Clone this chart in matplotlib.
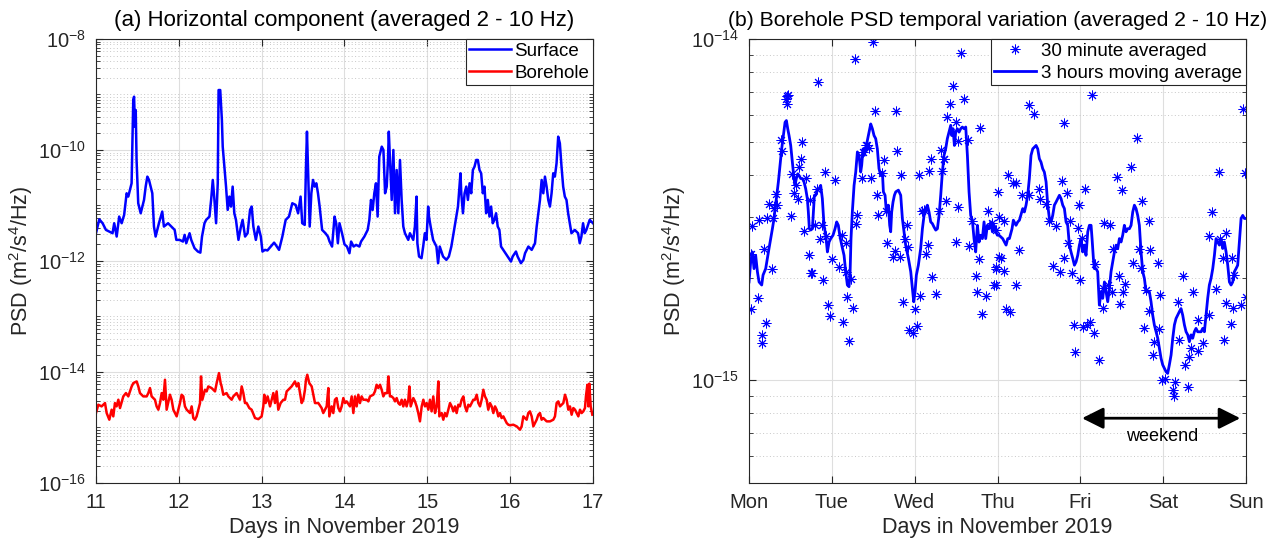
#
# PSD of the horizontal component, surface vs borehole, and the weekly borehole variation
#
import numpy as np
import matplotlib
matplotlib.use('Agg')
import matplotlib.pyplot as plt
from matplotlib.ticker import LogLocator, NullFormatter

# ---- Data -----------------------------------------------------------------
# (a) time in days of November 2019, PSD given as log10 exponent
surface_day = [11.00, 11.04, 11.08, 11.12, 11.16, 11.20, 11.22, 11.25, 11.28, 11.31,
               11.34, 11.37, 11.39, 11.41, 11.43, 11.45, 11.46, 11.47, 11.48, 11.49,
               11.51, 11.54, 11.58, 11.60, 11.62, 11.64, 11.68, 11.70, 11.72, 11.76,
               11.80, 11.82, 11.87, 11.91, 11.95, 11.97, 12.01, 12.05, 12.07, 12.09,
               12.13, 12.15, 12.19, 12.23, 12.26, 12.28, 12.31, 12.33, 12.37, 12.39,
               12.41, 12.43, 12.45, 12.47, 12.48, 12.50, 12.52, 12.53, 12.55, 12.57,
               12.59, 12.61, 12.63, 12.65, 12.67, 12.69, 12.72, 12.75, 12.77, 12.80,
               12.83, 12.86, 12.88, 12.90, 12.93, 12.96, 12.99, 13.01, 13.04, 13.07,
               13.11, 13.15, 13.17, 13.21, 13.25, 13.29, 13.33, 13.37, 13.41, 13.44,
               13.47, 13.49, 13.52, 13.535, 13.547, 13.56, 13.58, 13.60, 13.62, 13.64,
               13.66, 13.68, 13.70, 13.73, 13.77, 13.80, 13.82, 13.85, 13.88, 13.90,
               13.92, 13.94, 13.97, 14.00, 14.03, 14.06, 14.08, 14.11, 14.14, 14.18,
               14.20, 14.24, 14.28, 14.30, 14.32, 14.34, 14.36, 14.38, 14.40, 14.42,
               14.45, 14.47, 14.49, 14.51, 14.525, 14.535, 14.55, 14.57, 14.59, 14.61,
               14.63, 14.65, 14.67, 14.69, 14.71, 14.73, 14.77, 14.79, 14.83, 14.85,
               14.87, 14.88, 14.90, 14.93, 14.95, 14.97, 14.99, 15.01, 15.02, 15.04,
               15.07, 15.11, 15.13, 15.15, 15.19, 15.23, 15.26, 15.29, 15.33, 15.37,
               15.40, 15.41, 15.43, 15.45, 15.47, 15.49, 15.51, 15.53, 15.55, 15.57,
               15.59, 15.61, 15.63, 15.65, 15.67, 15.69, 15.71, 15.73, 15.75, 15.77,
               15.79, 15.81, 15.83, 15.85, 15.87, 15.89, 15.93, 15.97, 16.01, 16.03,
               16.07, 16.09, 16.13, 16.16, 16.18, 16.22, 16.26, 16.30, 16.32, 16.34,
               16.36, 16.38, 16.40, 16.42, 16.44, 16.46, 16.48, 16.50, 16.52, 16.54,
               16.56, 16.58, 16.60, 16.62, 16.64, 16.66, 16.68, 16.70, 16.72, 16.74,
               16.78, 16.82, 16.84, 16.86, 16.88, 16.90, 16.92, 16.96, 17.00]
surface_exp = [-11.50, -11.25, -11.32, -11.44, -11.47, -11.50, -11.32, -11.56, -11.20, -11.32,
               -11.17, -10.78, -10.84, -10.72, -10.60, -9.10, -9.04, -9.58, -9.28, -10.18,
               -10.96, -11.14, -10.90, -10.66, -10.48, -10.54, -10.78, -11.38, -11.56, -11.32,
               -11.11, -11.38, -11.32, -11.38, -11.44, -11.62, -11.62, -11.65, -11.53, -11.68,
               -11.50, -11.62, -11.77, -11.83, -11.85, -11.56, -11.32, -11.26, -11.20, -10.90,
               -10.54, -10.90, -11.32, -10.60, -8.92, -8.92, -9.46, -9.94, -10.30, -10.66,
               -11.08, -10.84, -11.02, -10.66, -11.14, -11.26, -11.62, -11.38, -11.26, -11.56,
               -11.50, -11.08, -11.02, -11.38, -11.62, -11.38, -11.56, -11.83, -11.80, -11.81,
               -11.74, -11.67, -11.71, -11.80, -11.56, -11.26, -11.20, -10.96, -10.99, -11.14,
               -10.84, -11.32, -11.35, -10.30, -9.67, -10.36, -11.38, -10.78, -10.54, -10.66,
               -10.60, -10.78, -11.02, -11.44, -11.50, -11.56, -11.65, -11.74, -11.20, -11.32,
               -11.68, -11.32, -11.50, -11.70, -11.74, -11.86, -11.65, -11.74, -11.71, -11.74,
               -11.65, -11.56, -11.44, -11.26, -10.90, -11.08, -10.78, -10.60, -11.20, -10.12,
               -9.94, -10.00, -10.78, -10.66, -10.18, -9.67, -10.18, -10.90, -10.00, -11.14,
               -10.36, -11.14, -10.18, -10.90, -11.38, -11.50, -11.62, -11.50, -11.62, -11.38,
               -10.84, -11.68, -11.92, -11.95, -11.74, -11.50, -11.62, -11.02, -11.20, -11.38,
               -11.62, -11.74, -12.04, -11.74, -11.92, -11.98, -11.92, -11.74, -11.38, -11.02,
               -10.42, -10.78, -11.14, -10.78, -10.66, -10.90, -10.60, -10.78, -10.36, -10.30,
               -10.18, -10.18, -10.36, -10.42, -10.78, -10.66, -11.14, -10.90, -11.20, -11.02,
               -11.32, -11.26, -11.14, -11.38, -11.44, -11.74, -11.83, -11.92, -12.01, -11.92,
               -11.83, -11.92, -12.04, -11.98, -11.86, -11.74, -11.80, -11.68, -11.38, -11.14,
               -10.90, -10.54, -10.78, -10.48, -10.66, -10.90, -11.02, -10.78, -10.42, -10.48,
               -10.24, -9.76, -9.88, -10.30, -10.66, -10.84, -10.90, -11.14, -11.32, -11.50,
               -11.44, -11.50, -11.68, -11.56, -11.32, -11.50, -11.44, -11.26, -11.32]

borehole_day = [11.000, 11.028, 11.068, 11.109, 11.129, 11.161, 11.189, 11.209, 11.229, 11.249,
                11.270, 11.290, 11.330, 11.362, 11.390, 11.431, 11.451, 11.491, 11.511, 11.531,
                11.571, 11.612, 11.632, 11.652, 11.672, 11.712, 11.732, 11.753, 11.773, 11.793,
                11.813, 11.833, 11.853, 11.893, 11.913, 11.934, 11.974, 12.014, 12.034, 12.054,
                12.074, 12.095, 12.135, 12.155, 12.175, 12.195, 12.215, 12.235, 12.256, 12.268,
                12.284, 12.316, 12.336, 12.356, 12.396, 12.437, 12.457, 12.485, 12.505, 12.517,
                12.537, 12.577, 12.598, 12.638, 12.658, 12.698, 12.738, 12.759, 12.779, 12.799,
                12.819, 12.851, 12.879, 12.920, 12.960, 13.000, 13.020, 13.032, 13.048, 13.072,
                13.101, 13.121, 13.141, 13.161, 13.181, 13.201, 13.229, 13.262, 13.282, 13.302,
                13.342, 13.362, 13.402, 13.423, 13.443, 13.463, 13.483, 13.503, 13.523, 13.535,
                13.551, 13.575, 13.604, 13.624, 13.644, 13.684, 13.724, 13.744, 13.785, 13.805,
                13.817, 13.845, 13.865, 13.885, 13.905, 13.926, 13.946, 13.966, 13.986, 14.006,
                14.026, 14.066, 14.087, 14.107, 14.127, 14.147, 14.167, 14.187, 14.207, 14.227,
                14.268, 14.288, 14.308, 14.348, 14.368, 14.388, 14.408, 14.429, 14.449, 14.469,
                14.489, 14.517, 14.529, 14.549, 14.569, 14.590, 14.610, 14.630, 14.650, 14.670,
                14.690, 14.710, 14.730, 14.750, 14.771, 14.783, 14.799, 14.831, 14.851, 14.871,
                14.891, 14.911, 14.932, 14.952, 14.972, 14.992, 15.012, 15.032, 15.052, 15.072,
                15.093, 15.113, 15.133, 15.145, 15.173, 15.193, 15.213, 15.233, 15.254, 15.274,
                15.294, 15.314, 15.334, 15.354, 15.374, 15.394, 15.414, 15.435, 15.455, 15.475,
                15.495, 15.515, 15.535, 15.555, 15.575, 15.596, 15.616, 15.636, 15.656, 15.676,
                15.696, 15.716, 15.736, 15.757, 15.777, 15.797, 15.817, 15.837, 15.857, 15.877,
                15.897, 15.918, 15.938, 15.958, 15.978, 15.998, 16.038, 16.079, 16.119, 16.139,
                16.159, 16.199, 16.219, 16.239, 16.260, 16.280, 16.300, 16.320, 16.340, 16.360,
                16.380, 16.400, 16.441, 16.481, 16.521, 16.541, 16.561, 16.581, 16.602, 16.642,
                16.662, 16.682, 16.702, 16.722, 16.742, 16.763, 16.783, 16.803, 16.823, 16.843,
                16.863, 16.883, 16.903, 16.915, 16.932, 16.944, 16.956, 16.972, 16.992]
borehole_exp = [-14.74, -14.59, -14.62, -14.56, -14.74, -14.86, -14.68, -14.80, -14.56, -14.62,
                -14.50, -14.65, -14.44, -14.38, -14.44, -14.26, -14.20, -14.17, -14.26, -14.38,
                -14.44, -14.44, -14.38, -14.29, -14.44, -14.50, -14.62, -14.68, -14.56, -14.38,
                -14.50, -14.14, -14.68, -14.41, -14.50, -14.68, -14.80, -14.56, -14.41, -14.44,
                -14.62, -14.68, -14.74, -14.62, -14.83, -14.86, -14.80, -14.68, -14.56, -14.08,
                -14.50, -14.32, -14.35, -14.26, -14.29, -14.35, -14.20, -14.02, -14.20, -14.26,
                -14.41, -14.38, -14.44, -14.50, -14.44, -14.38, -14.50, -14.26, -14.38, -14.56,
                -14.56, -14.65, -14.68, -14.83, -14.85, -14.80, -14.62, -14.41, -14.56, -14.44,
                -14.62, -14.50, -14.38, -14.56, -14.35, -14.68, -14.56, -14.50, -14.50, -14.35,
                -14.29, -14.26, -14.17, -14.26, -14.20, -14.38, -14.56, -14.50, -14.32, -14.14,
                -14.05, -14.20, -14.26, -14.41, -14.56, -14.56, -14.65, -14.74, -14.62, -14.29,
                -14.80, -14.62, -14.74, -14.50, -14.47, -14.65, -14.71, -14.62, -14.47, -14.56,
                -14.53, -14.62, -14.44, -14.74, -14.44, -14.62, -14.41, -14.56, -14.44, -14.50,
                -14.50, -14.53, -14.44, -14.41, -14.35, -14.23, -14.29, -14.23, -14.32, -14.44,
                -14.38, -14.38, -14.08, -14.44, -14.44, -14.47, -14.53, -14.47, -14.56, -14.59,
                -14.50, -14.62, -14.50, -14.62, -14.50, -14.26, -14.62, -14.47, -14.53, -14.62,
                -14.74, -14.89, -14.62, -14.50, -14.62, -14.56, -14.68, -14.50, -14.71, -14.44,
                -14.74, -14.62, -14.17, -14.80, -14.74, -14.86, -14.74, -14.80, -14.68, -14.56,
                -14.62, -14.71, -14.62, -14.74, -14.59, -14.62, -14.50, -14.44, -14.62, -14.71,
                -14.59, -14.62, -14.56, -14.50, -14.50, -14.41, -14.56, -14.62, -14.50, -14.32,
                -14.44, -14.50, -14.68, -14.56, -14.62, -14.74, -14.62, -14.68, -14.80, -14.74,
                -14.83, -14.80, -14.86, -14.92, -14.95, -14.96, -14.95, -14.98, -15.04, -14.98,
                -14.80, -14.86, -14.74, -14.71, -14.80, -14.98, -14.92, -14.86, -14.77, -14.74,
                -14.86, -14.83, -14.89, -14.89, -14.86, -14.80, -14.56, -14.53, -14.62, -14.56,
                -14.41, -14.50, -14.68, -14.62, -14.77, -14.65, -14.68, -14.74, -14.80, -14.68,
                -14.74, -14.71, -14.65, -14.44, -14.23, -14.62, -14.21, -14.62, -14.77]

# (b) time in days since Monday 00:00, PSD as log10 exponent
week_days = ['Mon', 'Tue', 'Wed', 'Thu', 'Fri', 'Sat', 'Sun']

avg30_day = [1.501, 1.280, 2.563, 0.837, 2.463, 2.591, 2.422, 0.463, 0.451, 0.475,
             0.455, 1.521, 1.771, 2.394, 2.495, 2.785, 0.390, 0.402, 0.644, 1.791,
             2.314, 2.358, 2.527, 2.644, 1.429, 1.449, 1.376, 1.408, 0.624, 0.604,
             1.630, 2.193, 2.354, 0.515, 0.563, 0.692, 0.917, 1.038, 1.602, 1.839,
             2.052, 2.173, 2.326, 1.360, 1.469, 1.549, 0.543, 0.592, 0.322, 2.374,
             2.527, 0.241, 0.302, 0.342, 1.650, 1.561, 2.084, 2.113, 2.294, 2.889,
             0.121, 0.221, 0.290, 0.503, 1.308, 1.288, 1.911, 2.688, 2.938, 2.978,
             0.040, 0.668, 0.797, 0.877, 0.736, 0.825, 0.934, 0.857, 1.167, 1.127,
             1.670, 1.883, 1.924, 2.161, 2.503, 2.660, 0.181, 0.020, 0.724, 1.006,
             1.763, 1.742, 1.819, 2.133, 0.282, 1.086, 1.175, 2.777, 2.978, 3.018,
             0.744, 0.765, 0.897, 1.235, 2.213, 2.736, 0.109, 1.187, 0.954, 1.863,
             2.060, 2.254, 2.757, 2.865, 2.958, 0.020, 1.255, 0.978, 2.004, 0.201,
             1.135, 2.817, 2.032, 0.153, 1.932, 1.980, 0.161, 1.207,
             4.141, 3.384, 3.445, 3.799, 5.960, 4.684, 4.612, 4.443, 3.127, 3.183,
             3.223, 3.779, 4.503, 5.678, 5.992, 3.002, 3.296, 3.384, 3.505, 3.835,
             4.060, 4.745, 3.022, 3.083, 3.513, 3.586, 3.626, 3.706, 3.980, 3.875,
             3.968, 4.290, 4.358, 4.825, 5.590, 3.847, 4.020, 4.704, 4.845, 5.557,
             5.759, 5.686, 3.256, 3.042, 3.807, 4.390, 4.640, 4.934, 4.732, 3.674,
             3.755, 3.899, 4.181, 4.463, 5.235, 5.718, 5.831, 2.982, 3.083, 2.982,
             3.223, 4.000, 4.543, 4.519, 4.330, 4.278, 4.382, 4.793, 5.356, 5.638,
             5.859, 5.999, 3.103, 3.151, 4.483, 4.270, 4.833, 4.966, 5.175, 5.759,
             5.839, 5.940, 3.928, 4.036, 4.117, 4.077, 4.169, 4.773, 4.946, 5.416,
             5.549, 5.823, 3.940, 4.221, 4.893, 4.873, 5.187, 5.477, 5.416, 5.336,
             5.316, 5.268, 5.738, 4.986, 5.026, 5.147, 5.115, 5.135, 5.296]
avg30_exp = [-14.008, -14.058, -14.041, -14.125, -14.139, -14.175, -14.191, -14.168, -14.175, -14.164,
             -14.190, -14.210, -14.212, -14.230, -14.242, -14.261, -14.297, -14.327, -14.302, -14.329,
             -14.324, -14.351, -14.298, -14.297, -14.312, -14.320, -14.331, -14.310, -14.353, -14.375,
             -14.356, -14.353, -14.353, -14.397, -14.429, -14.407, -14.390, -14.414, -14.393, -14.400,
             -14.398, -14.388, -14.388, -14.407, -14.407, -14.458, -14.450, -14.468, -14.454, -14.476,
             -14.493, -14.484, -14.495, -14.487, -14.505, -14.515, -14.503, -14.500, -14.505, -14.505,
             -14.529, -14.526, -14.526, -14.520, -14.517, -14.541, -14.546, -14.534, -14.538, -14.560,
             -14.549, -14.563, -14.546, -14.544, -14.471, -14.439, -14.577, -14.585, -14.599, -14.575,
             -14.597, -14.585, -14.609, -14.604, -14.595, -14.606, -14.614, -14.629, -14.634, -14.645,
             -14.622, -14.638, -14.638, -14.629, -14.673, -14.668, -14.682, -14.645, -14.668, -14.638,
             -14.687, -14.687, -14.707, -14.702, -14.697, -14.695, -14.758, -14.755, -14.780, -14.770,
             -14.753, -14.746, -14.741, -14.753, -14.721, -14.790, -14.788, -14.812, -14.791, -14.833,
             -14.830, -14.806, -14.840, -14.866, -14.853, -14.863, -14.892, -14.885,
             -14.164, -14.193, -14.219, -14.246, -14.205, -14.289, -14.375, -14.404, -14.398, -14.421,
             -14.421, -14.417, -14.443, -14.390, -14.392, -14.448, -14.456, -14.458, -14.441, -14.451,
             -14.439, -14.476, -14.523, -14.534, -14.468, -14.485, -14.534, -14.548, -14.487, -14.534,
             -14.554, -14.539, -14.544, -14.534, -14.507, -14.597, -14.583, -14.616, -14.618, -14.577,
             -14.570, -14.585, -14.617, -14.641, -14.641, -14.616, -14.655, -14.656, -14.671, -14.666,
             -14.682, -14.687, -14.660, -14.695, -14.695, -14.643, -14.641, -14.673, -14.680, -14.721,
             -14.721, -14.707, -14.719, -14.741, -14.721, -14.731, -14.741, -14.736, -14.741, -14.733,
             -14.692, -14.755, -14.791, -14.799, -14.777, -14.788, -14.797, -14.751, -14.770, -14.775,
             -14.788, -14.780, -14.838, -14.844, -14.828, -14.838, -14.863, -14.848, -14.850, -14.824,
             -14.809, -14.836, -14.916, -14.941, -14.887, -14.926, -14.882, -14.890, -14.914, -14.906,
             -14.931, -14.955, -14.882, -14.999, -14.996, -15.006, -15.028, -15.046, -15.021]

mov3h_day = [0.000, 0.020, 0.040, 0.060, 0.080, 0.101, 0.121, 0.153, 0.169, 0.201,
             0.221, 0.241, 0.262, 0.282, 0.302, 0.314, 0.330, 0.354, 0.370, 0.394,
             0.414, 0.435, 0.451, 0.467, 0.483, 0.503, 0.523, 0.543, 0.555, 0.571,
             0.588, 0.604, 0.624, 0.644, 0.664, 0.684, 0.704, 0.716, 0.728, 0.744,
             0.765, 0.777, 0.789, 0.805, 0.825, 0.845, 0.865, 0.885, 0.905, 0.926,
             0.946, 0.966, 0.986, 1.014, 1.038, 1.058, 1.078, 1.095, 1.119, 1.147,
             1.167, 1.187, 1.207, 1.219, 1.231, 1.247, 1.268, 1.288, 1.308, 1.328,
             1.348, 1.360, 1.376, 1.392, 1.408, 1.433, 1.449, 1.469, 1.489, 1.509,
             1.529, 1.549, 1.569, 1.590, 1.610, 1.622, 1.642, 1.658, 1.682, 1.698,
             1.710, 1.722, 1.738, 1.755, 1.771, 1.803, 1.831, 1.851, 1.871, 1.891,
             1.924, 1.952, 1.972, 1.988, 2.004, 2.020, 2.044, 2.072, 2.093, 2.113,
             2.133, 2.153, 2.173, 2.193, 2.213, 2.233, 2.254, 2.274, 2.294, 2.314,
             2.334, 2.354, 2.374, 2.394, 2.414, 2.435, 2.447, 2.463, 2.479, 2.495,
             2.515, 2.535, 2.555, 2.575, 2.596, 2.616, 2.636, 2.656, 2.676, 2.696,
             2.716, 2.736, 2.757, 2.777, 2.797, 2.817, 2.837, 2.857, 2.877, 2.897,
             2.918, 2.938, 2.958, 2.978, 2.998, 3.018, 3.062, 3.103, 3.123, 3.143,
             3.175, 3.191, 3.223, 3.244, 3.264, 3.304, 3.324, 3.344, 3.364, 3.384,
             3.404, 3.425, 3.445, 3.465, 3.485, 3.505, 3.525, 3.545, 3.565, 3.586,
             3.606, 3.626, 3.646, 3.666, 3.686, 3.706, 3.726, 3.747, 3.767, 3.787,
             3.807, 3.827, 3.847, 3.867, 3.887, 3.908, 3.928, 3.948, 3.968, 3.988,
             4.008, 4.028, 4.048, 4.068, 4.089, 4.109, 4.129, 4.141, 4.157, 4.169,
             4.189, 4.209, 4.229, 4.250, 4.270, 4.290, 4.310, 4.330, 4.350, 4.370,
             4.390, 4.411, 4.431, 4.451, 4.471, 4.491, 4.511, 4.531, 4.551, 4.571,
             4.592, 4.612, 4.632, 4.652, 4.672, 4.692, 4.712, 4.732, 4.753, 4.773,
             4.793, 4.813, 4.833, 4.853, 4.873, 4.893, 4.914, 4.934, 4.954, 4.974,
             4.994, 5.014, 5.034, 5.054, 5.074, 5.095, 5.115, 5.135, 5.155, 5.175,
             5.195, 5.215, 5.235, 5.256, 5.276, 5.296, 5.316, 5.336, 5.356, 5.376,
             5.396, 5.416, 5.437, 5.457, 5.477, 5.497, 5.517, 5.537, 5.557, 5.577,
             5.598, 5.618, 5.638, 5.658, 5.678, 5.698, 5.718, 5.738, 5.759, 5.779,
             5.799, 5.819, 5.839, 5.859, 5.879, 5.899, 5.919, 5.940, 5.960, 5.980,
             6.000]
mov3h_exp = [-14.712, -14.653, -14.624, -14.673, -14.634, -14.682, -14.712, -14.721, -14.692, -14.673,
             -14.643, -14.614, -14.585, -14.556, -14.526, -14.497, -14.468, -14.419, -14.380, -14.322,
             -14.283, -14.244, -14.239, -14.263, -14.283, -14.312, -14.361, -14.409, -14.429, -14.409,
             -14.395, -14.400, -14.409, -14.409, -14.419, -14.439, -14.468, -14.507, -14.556, -14.560,
             -14.556, -14.507, -14.458, -14.458, -14.443, -14.439, -14.429, -14.468, -14.546, -14.575,
             -14.624, -14.595, -14.585, -14.575, -14.556, -14.536, -14.546, -14.575, -14.604, -14.634,
             -14.682, -14.721, -14.726, -14.692, -14.585, -14.507, -14.429, -14.390, -14.331, -14.341,
             -14.390, -14.370, -14.322, -14.341, -14.322, -14.292, -14.273, -14.249, -14.263, -14.283,
             -14.292, -14.322, -14.380, -14.400, -14.390, -14.448, -14.458, -14.507, -14.487, -14.546,
             -14.565, -14.507, -14.478, -14.458, -14.448, -14.443, -14.458, -14.526, -14.565, -14.604,
             -14.643, -14.682, -14.731, -14.770, -14.741, -14.692, -14.663, -14.614, -14.556, -14.517,
             -14.497, -14.487, -14.507, -14.536, -14.541, -14.551, -14.560, -14.556, -14.517, -14.458,
             -14.390, -14.341, -14.322, -14.292, -14.273, -14.253, -14.283, -14.263, -14.312, -14.273,
             -14.263, -14.273, -14.263, -14.258, -14.263, -14.258, -14.341, -14.448, -14.517, -14.531,
             -14.585, -14.624, -14.546, -14.595, -14.575, -14.585, -14.536, -14.585, -14.546, -14.556,
             -14.536, -14.565, -14.546, -14.565, -14.575, -14.575, -14.585, -14.604, -14.585, -14.585,
             -14.556, -14.531, -14.546, -14.536, -14.531, -14.497, -14.507, -14.487, -14.458, -14.409,
             -14.341, -14.322, -14.317, -14.312, -14.322, -14.351, -14.361, -14.380, -14.390, -14.419,
             -14.487, -14.526, -14.536, -14.517, -14.487, -14.478, -14.468, -14.458, -14.468, -14.487,
             -14.497, -14.536, -14.546, -14.604, -14.624, -14.643, -14.663, -14.653, -14.634, -14.604,
             -14.585, -14.624, -14.604, -14.634, -14.565, -14.546, -14.546, -14.585, -14.643, -14.673,
             -14.673, -14.682, -14.780, -14.741, -14.760, -14.712, -14.741, -14.770, -14.731, -14.682,
             -14.653, -14.624, -14.604, -14.614, -14.585, -14.595, -14.575, -14.546, -14.565, -14.556,
             -14.556, -14.546, -14.507, -14.487, -14.497, -14.517, -14.546, -14.624, -14.682, -14.702,
             -14.741, -14.741, -14.741, -14.770, -14.809, -14.838, -14.858, -14.877, -14.906, -14.936,
             -14.955, -14.965, -14.975, -14.980, -14.955, -14.926, -14.877, -14.838, -14.819, -14.809,
             -14.799, -14.790, -14.809, -14.838, -14.858, -14.867, -14.887, -14.867, -14.877, -14.858,
             -14.848, -14.858, -14.858, -14.858, -14.848, -14.858, -14.809, -14.760, -14.721, -14.702,
             -14.673, -14.634, -14.585, -14.595, -14.604, -14.585, -14.614, -14.595, -14.624, -14.663,
             -14.712, -14.721, -14.712, -14.682, -14.673, -14.663, -14.595, -14.526, -14.517, -14.526,
             -14.526]

# ---- Style ------------------------------------------------------------------
plt.rcParams['font.family'] = ['Liberation Sans', 'DejaVu Sans']
plt.rcParams['mathtext.fontset'] = 'custom'
plt.rcParams['mathtext.rm'] = 'Liberation Sans'
plt.rcParams['mathtext.it'] = 'Liberation Sans:italic'
plt.rcParams['mathtext.bf'] = 'Liberation Sans:bold'

axcol = '0.15'


def style_axes(ax, ymin, ymax):
  ax.set_yscale('log')
  ax.set_ylim(ymin, ymax)
  ax.yaxis.set_minor_locator(LogLocator(base=10, subs=np.arange(1, 10), numticks=40))
  ax.yaxis.set_minor_formatter(NullFormatter())
  ax.tick_params(which='both', direction='in', top=True, right=True,
                 colors=axcol, labelsize=14.5)
  ax.tick_params(which='major', length=5, width=0.8, pad=7)
  ax.tick_params(which='minor', length=3, width=0.6)
  for s in ax.spines.values():
    s.set_color(axcol)
    s.set_linewidth(0.8)
  ax.grid(True, which='major', color='0.87', lw=0.8)
  ax.grid(True, which='minor', axis='y', color='0.78', lw=0.7, ls=(0, (1, 2.5)))
  ax.set_axisbelow(True)
  ax.set_ylabel('PSD (m$^2$/s$^4$/Hz)', fontsize=15.5, color=axcol, labelpad=2)
  ax.set_xlabel('Days in November 2019', fontsize=15.5, color=axcol, labelpad=4)


fig = plt.figure(figsize=(12.78, 5.42), dpi=100)
ax1 = fig.add_axes([0.0751, 0.1089, 0.3889, 0.8192])
ax2 = fig.add_axes([0.5861, 0.1089, 0.3889, 0.8192])

# ---- (a) surface vs borehole -----------------------------------------------
ax1.plot(surface_day, 10**np.array(surface_exp), color='b', lw=1.8, label='Surface')
ax1.plot(borehole_day, 10**np.array(borehole_exp), color='r', lw=1.8, label='Borehole')
style_axes(ax1, 1e-16, 1e-8)
ax1.set_xlim(11, 17)
ax1.set_xticks(range(11, 18))
ax1.set_yticks([1e-16, 1e-14, 1e-12, 1e-10, 1e-8])
ax1.set_title('(a) Horizontal component (averaged 2 - 10 Hz)', fontsize=16, pad=9)
leg = ax1.legend(loc='upper right', fontsize=13.5, fancybox=False, framealpha=1,
                 edgecolor=axcol, borderaxespad=0, handlelength=2.2, handletextpad=0.2,
                 borderpad=0.2, labelspacing=0.25)
leg.get_frame().set_linewidth(0.8)

# ---- (b) borehole weekly variation ------------------------------------------
ax2.plot(avg30_day, 10**np.array(avg30_exp), ls='none', marker=(8, 2, 0), ms=7,
         mew=0.7, color='b', label='30 minute averaged')
ax2.plot(mov3h_day, 10**np.array(mov3h_exp), color='b', lw=2.0,
         label='3 hours moving average')
style_axes(ax2, 5e-16, 1e-14)
ax2.set_xlim(0, 6)
ax2.set_xticks(range(7))
ax2.set_xticklabels(week_days)
ax2.set_yticks([1e-15, 1e-14])
ax2.set_title('(b) Borehole PSD temporal variation (averaged 2 - 10 Hz)', fontsize=15.2, pad=9)
leg = ax2.legend(loc='upper right', fontsize=13.5, fancybox=False, framealpha=1,
                 edgecolor=axcol, borderaxespad=0, handlelength=2.2, handletextpad=0.3,
                 borderpad=0.2, labelspacing=0.25)
leg.get_frame().set_linewidth(0.8)

ax2.annotate('', xy=(4.02, 7.74e-16), xytext=(5.93, 7.74e-16),
             arrowprops=dict(arrowstyle='<|-|>,head_length=0.5,head_width=0.25',
                             color='k', lw=2, mutation_scale=26, shrinkA=0, shrinkB=0))
ax2.text(4.99, 6.85e-16, 'weekend', fontsize=13, ha='center', va='center')

fig.savefig('out.png', dpi=100)
